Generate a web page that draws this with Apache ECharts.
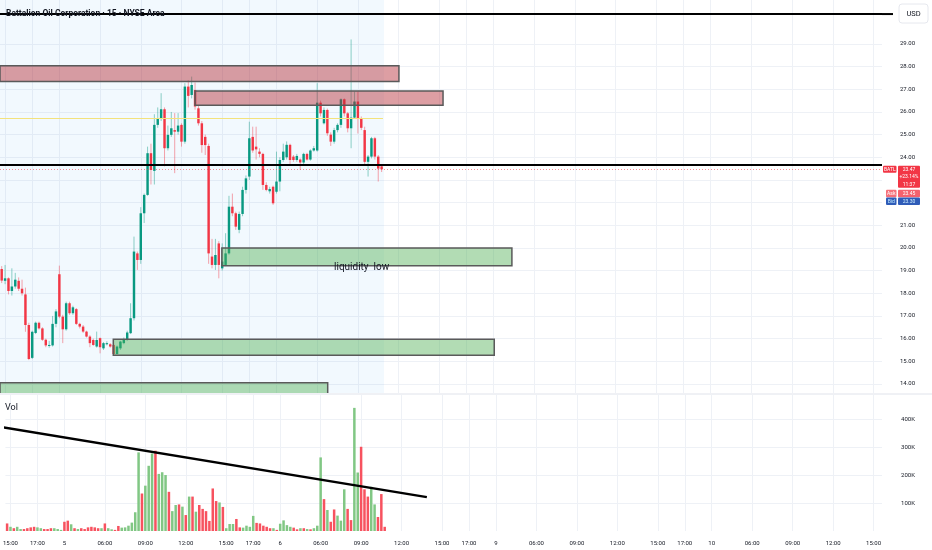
<!DOCTYPE html>
<html><head><meta charset="utf-8">
<script src="https://cdn.jsdelivr.net/npm/echarts@6/dist/echarts.min.js"></script>
<style>html,body{margin:0;padding:0;background:#fff}#c{width:932px;height:550px}</style>
</head><body><div id="c"></div>
<script>
// ---------------- data ----------------
const chartTitle = 'Battalion Oil Corporation · 15 · NYSE Arca';
const sessionDays = ['4', '5', '6', '9', '10'];
const sessionStart = '03:00';
const sessionEnd = '18:45';
const firstBarTime = '14:45';
const barCount = 260;
const tickTimes = ['06:00', '09:00', '12:00', '15:00', '17:00'];
const priceTicks = [14, 15, 16, 17, 18, 19, 20, 21, 22, 23, 24, 25, 26, 27, 28, 29];
const volumeTicks = [100, 200, 300, 400]; // thousands

// [open, close, low, high]
const ohlc = [
 [19.07,18.56,18.45,19.2],[18.55,18.66,18.4,19.25],[18.66,18.1,17.95,18.7],[18.1,18.3,17.9,19.1],
 [18.3,18.6,18.2,18.9],[18.55,18.2,18.1,18.7],[18.2,18.0,17.9,18.6],[17.95,16.6,16.3,18.25],
 [16.6,15.1,15.05,16.7],[15.15,16.3,15.1,16.35],[16.25,16.7,16.2,16.75],[16.7,16.45,16.4,16.75],
 [16.45,15.95,15.9,16.5],[15.95,15.7,15.62,16.0],[15.68,15.72,15.6,15.9],[15.7,16.65,15.65,17.0],
 [16.65,17.2,16.5,17.3],
 [18.84,16.97,16.9,19.22],[16.97,16.41,15.8,17.05],[16.41,17.56,16.35,17.63],[17.56,17.12,17.05,17.63],
 [17.12,17.38,17.05,17.45],[17.3,16.65,16.6,17.35],[16.65,16.53,16.45,16.7],[16.53,16.31,16.25,16.6],
 [16.31,16.09,16.05,16.35],[16.09,15.8,15.62,16.15],[15.94,15.72,15.68,16.0],[15.65,15.94,15.6,16.31],
 [16.02,15.62,15.35,16.05],[15.57,15.8,15.5,15.85],[15.75,15.8,15.7,15.88],[15.75,15.65,15.6,15.8],
 [15.72,15.32,15.28,15.78],[15.32,15.65,15.3,15.7],[15.57,15.87,15.5,15.9],[15.8,15.94,15.75,16.05],
 [15.94,16.27,15.9,16.35],[16.24,16.9,16.2,17.56],[16.9,19.84,16.8,20.5],[19.76,19.47,19.03,19.84],
 [19.47,21.53,19.3,21.8],[21.53,22.34,21.1,22.4],[22.34,24.18,22.3,24.47],[24.18,23.44,22.8,24.6],
 [23.4,25.43,22.8,25.9],[25.43,25.72,25.3,26.2],[25.72,26.12,25.6,26.83],[26.12,24.4,23.6,26.2],
 [24.4,24.99,24.3,25.4],[24.99,25.28,24.9,26.0],[25.2,25.13,23.3,25.95],[25.13,25.4,25.0,25.95],
 [25.43,24.69,24.47,25.5],[24.69,27.12,24.6,27.27],[27.12,26.71,26.2,27.4],[26.75,27.19,26.6,27.56],
 [26.97,26.24,26.1,27.3],[26.16,25.5,25.4,26.3],[25.5,24.54,24.2,25.6],[24.9,24.54,24.1,25.0],
 [24.5,19.76,19.3,24.6],[19.62,19.25,19.1,20.4],[19.25,19.69,19.03,20.4],[20.2,19.25,18.66,20.3],
 [19.1,19.4,19.0,20.2],[19.25,19.76,19.2,20.65],[19.76,21.82,19.7,22.3],[21.82,21.53,21.4,22.4],
 [21.53,20.94,20.8,21.6],[20.8,21.5,20.65,21.6],[21.5,22.56,21.4,22.7],[22.56,23.07,22.4,23.2],
 [23.15,24.84,23.0,25.57],[24.9,24.3,24.2,25.35],[24.47,24.35,23.9,25.35],[24.25,24.15,24.0,24.4],
 [24.15,22.78,22.56,24.2],[22.78,22.56,22.5,22.9],[22.5,22.6,22.4,22.7],[22.7,21.97,21.9,22.75],
 [22.48,22.93,22.4,24.25],[22.93,23.88,22.5,24.0],[23.88,24.25,23.8,24.6],[24.0,24.55,23.9,24.7],
 [24.55,23.88,23.66,24.6],[24.03,23.88,23.8,24.1],[23.88,24.06,23.8,24.15],[23.9,23.77,23.45,23.95],
 [23.77,24.15,23.7,24.2],[24.15,23.9,23.85,24.2],[23.9,24.3,23.85,24.35],[24.3,24.4,24.25,24.5],
 [24.3,26.41,24.25,27.27],[26.41,25.94,25.8,26.5],[25.5,26.09,25.45,26.2],[26.09,25.06,24.95,26.15],
 [25.0,24.69,24.5,25.1],[24.69,25.2,24.6,25.3],[25.2,25.43,25.1,25.5],[25.43,26.56,25.3,26.6],
 [26.56,25.94,25.8,26.6],[25.94,25.28,25.1,26.0],[25.28,25.75,24.4,29.2],[25.75,26.46,25.7,26.9],
 [26.46,25.72,25.05,26.9],[25.72,25.3,25.2,25.8],[25.2,23.8,23.7,25.35],[23.8,24.03,23.15,24.1],
 [24.03,24.84,23.95,24.9],[24.84,24.03,23.9,24.9],[24.03,23.5,22.93,24.1],[23.6,23.47,23.35,23.7]
];

// volume in thousands
const volumes = [
 27,15,10,15,7,7,10,13,15,13,10,7,7,10,10,7,4,
 33,37,24,10,7,10,7,13,15,13,10,10,27,10,6,4,18,12,13,19,30,67,281,134,162,233,277,287,204,210,200,
 140,71,93,95,87,57,123,123,69,93,79,71,36,152,107,102,86,10,25,25,43,13,12,19,15,54,29,27,19,15,10,10,4,
 26,38,21,15,12,6,10,10,7,6,10,19,263,114,75,33,77,55,37,149,79,39,440,209,301,149,123,158,95,50,132,15
];

// drawings: [fromBar, toBar, topPrice, bottomPrice]
const supplyZones = [[-0.5, 117.1, 28.04, 27.34], [57.0, 130.1, 26.93, 26.30]];
const demandZones = [[64.9, 150.4, 20.0, 19.22], [32.9, 145.2, 15.97, 15.27], [-0.5, 96.1, 14.05, 13.2]];
const highlightBars = [-0.5, 112.7];
const yellowLevel = 25.72;
const yellowEndBar = 112.4;
const blackLevel = 23.66;
const topLevel = 30.32;
const volumeTrend = [[-2, 372], [124.5, 121]];
const liquidityLabel = { text: 'liquidity  low', bar: 106.1, price: 19.14 };
const lastPrice = 23.47, changeText = '+23.14%', countdown = '11:37';
const askPrice = 23.45, bidPrice = 23.30;

// ---------------- build ----------------
function pad(n) { return (n < 10 ? '0' : '') + n; }
const categories = (() => {
  const out = [];
  const toMin = s => { const p = s.split(':').map(Number); return p[0] * 60 + p[1]; };
  sessionDays.forEach((d, di) => {
    for (let m = di === 0 ? toMin(firstBarTime) : toMin(sessionStart); m <= toMin(sessionEnd); m += 15) {
      out.push({ day: d, time: pad(Math.floor(m / 60)) + ':' + pad(m % 60) });
    }
  });
  return out.slice(0, barCount);
})();
const tickIdx = [];
categories.forEach((c, i) => { if (c.time === sessionStart || tickTimes.indexOf(c.time) >= 0) tickIdx.push(i); });
function tickLabel(v) {
  const c = categories[Math.round(v)];
  if (!c) return '';
  return c.time === sessionStart ? c.day : c.time;
}

const UP = '#089981', DN = '#F23645';
const UPW = 'rgba(8,153,129,0.45)', DNW = 'rgba(242,54,69,0.45)';

function renderCandle(params, api) {
  const i = api.value(0), o = api.value(1), c = api.value(2), l = api.value(3), h = api.value(4);
  const up = c >= o;
  const top = api.coord([i, Math.max(o, c)]), bot = api.coord([i, Math.min(o, c)]);
  const hi = api.coord([i, h]), lo = api.coord([i, l]);
  const bw = api.size([1, 0])[0] * 0.72;
  const x = top[0];
  return { type: 'group', children: [
    { type: 'line', shape: { x1: x, y1: hi[1], x2: x, y2: lo[1] }, style: { stroke: up ? UPW : DNW, lineWidth: 1 } },
    { type: 'rect', shape: { x: x - bw / 2, y: top[1], width: bw, height: Math.max(1, bot[1] - top[1]) }, style: { fill: up ? UP : DN } }
  ]};
}
function zoneRenderer(fill) {
  return function (params, api) {
    const p1 = api.coord([api.value(0), api.value(2)]);
    const p2 = api.coord([api.value(1), api.value(3)]);
    return { type: 'rect', shape: { x: p1[0], y: p1[1], width: p2[0] - p1[0], height: p2[1] - p1[1] },
      style: { fill: fill, stroke: '#5a5a5a', lineWidth: 1.5 } };
  };
}

const axisFont = { fontFamily: 'Roboto', fontSize: 6, color: '#131722' };
const gridLine = { show: true, lineStyle: { color: '#eef1f6', width: 1 } };

const option = {
  animation: false,
  backgroundColor: '#ffffff',
  grid: [
    { left: 0, right: 50, top: 0, height: 393 },
    { left: 0, right: 50, top: 395, height: 136 }
  ],
  xAxis: [
    { type: 'value', gridIndex: 0, min: -0.5, max: barCount - 0.5,
      axisLine: { show: false }, axisTick: { show: false, customValues: tickIdx },
      axisLabel: { show: false, customValues: tickIdx }, splitLine: gridLine },
    { type: 'value', gridIndex: 1, min: -0.5, max: barCount - 0.5,
      axisLine: { show: false }, axisTick: { show: false, customValues: tickIdx },
      axisLabel: Object.assign({ show: true, customValues: tickIdx, formatter: tickLabel, margin: 9 }, axisFont),
      splitLine: gridLine }
  ],
  yAxis: [
    { type: 'value', gridIndex: 0, position: 'right', min: 13.6, max: 30.94,
      axisLine: { show: false }, axisTick: { show: false, customValues: priceTicks },
      axisLabel: Object.assign({ customValues: priceTicks, formatter: v => v.toFixed(2), align: 'right', margin: 33 }, axisFont),
      splitLine: gridLine },
    { type: 'value', gridIndex: 1, position: 'right', min: 0, max: 486,
      axisLine: { show: false }, axisTick: { show: false, customValues: volumeTicks },
      axisLabel: Object.assign({ customValues: volumeTicks, formatter: v => v + 'K', align: 'right', margin: 33 }, axisFont),
      splitLine: gridLine }
  ],
  series: [
    { name: 'levels', type: 'line', xAxisIndex: 0, yAxisIndex: 0, z: 1,
      data: ohlc.map((d, i) => [i, d[1]]), showSymbol: false, lineStyle: { opacity: 0 }, silent: true,
      markArea: { silent: true, itemStyle: { color: 'rgba(33,150,243,0.06)' },
        data: [[{ xAxis: highlightBars[0] }, { xAxis: highlightBars[1] }]] },
      markLine: { silent: true, symbol: ['none', 'none'], label: { show: false }, animation: false,
        data: [
          { yAxis: lastPrice, lineStyle: { color: 'rgba(242,54,69,0.55)', type: [1, 2], width: 1 } },
          [{ coord: [highlightBars[0], yellowLevel], lineStyle: { color: '#f3e27c', width: 1, type: 'solid' } },
           { coord: [yellowEndBar, yellowLevel] }]
        ] } },
    { name: 'candles', type: 'custom', xAxisIndex: 0, yAxisIndex: 0, z: 3,
      renderItem: renderCandle, data: ohlc.map((d, i) => [i, d[0], d[1], d[2], d[3]]),
      encode: { x: 0, y: [1, 2, 3, 4] } },
    { name: 'supply', type: 'custom', xAxisIndex: 0, yAxisIndex: 0, z: 5, clip: true,
      renderItem: zoneRenderer('rgba(180,40,52,0.45)'), data: supplyZones, encode: { x: [0, 1], y: [2, 3] } },
    { name: 'demand', type: 'custom', xAxisIndex: 0, yAxisIndex: 0, z: 5, clip: true,
      renderItem: zoneRenderer('rgba(76,175,80,0.43)'), data: demandZones, encode: { x: [0, 1], y: [2, 3] } },
    { name: 'lines', type: 'line', xAxisIndex: 0, yAxisIndex: 0, z: 6, data: [], silent: true,
      markLine: { silent: true, symbol: ['none', 'none'], label: { show: false }, animation: false,
        data: [
          { yAxis: blackLevel, lineStyle: { color: '#000000', width: 2, type: 'solid' } },
          { yAxis: topLevel, lineStyle: { color: '#000000', width: 2, type: 'solid' } }
        ] } },
    { name: 'volume', type: 'bar', xAxisIndex: 1, yAxisIndex: 1, barWidth: 2.5, z: 3,
      data: volumes.map((v, i) => ({ value: [i, v], itemStyle: { color: ohlc[i][1] >= ohlc[i][0] ? '#81C784' : '#F7525F' } })) },
    { name: 'volumeTrend', type: 'line', xAxisIndex: 1, yAxisIndex: 1, z: 6, clip: true, silent: true,
      data: volumeTrend, showSymbol: false, symbol: 'none', lineStyle: { color: '#000000', width: 2.5 } }
  ]
};

const chart = echarts.init(document.getElementById('c'), null, { renderer: 'canvas' });
chart.setOption(option);

// overlay texts and price tags positioned through the chart's scales
const yLast = chart.convertToPixel({ yAxisIndex: 0 }, lastPrice);
const xEdge = chart.convertToPixel({ xAxisIndex: 0 }, barCount - 0.5);
const yTop = chart.convertToPixel({ yAxisIndex: 0 }, topLevel);
const liq = chart.convertToPixel({ gridIndex: 0 }, [liquidityLabel.bar, liquidityLabel.price]);
const tagFont = { fontFamily: 'Roboto', fontSize: 5, fill: '#ffffff', align: 'center', verticalAlign: 'middle' };
function box(x, y, w, h, fill) { return { type: 'rect', shape: { x: x, y: y, width: w, height: h, r: 1 }, style: { fill: fill }, z: 50 }; }
function txt(x, y, s, extra) { return { type: 'text', x: x, y: y, style: Object.assign({ text: s }, tagFont, extra || {}), z: 51 }; }

chart.setOption({ graphic: [
  { type: 'line', shape: { x1: 0, y1: 394, x2: 932, y2: 394 }, style: { stroke: '#e0e3eb', lineWidth: 1 }, z: 40 },
  { type: 'line', shape: { x1: xEdge, y1: yTop, x2: xEdge + 11, y2: yTop }, style: { stroke: '#000', lineWidth: 2 }, z: 40 },
  { type: 'text', x: 6, y: 14, style: { text: chartTitle, fontFamily: 'Roboto', fontSize: 8.5, fontWeight: 'bold', fill: '#131722', verticalAlign: 'middle' }, z: 45 },
  { type: 'text', x: 5, y: 408, style: { text: 'Vol', fontFamily: 'Roboto', fontSize: 9, fill: '#131722', verticalAlign: 'middle' }, z: 45 },
  { type: 'rect', shape: { x: 899, y: 4, width: 29, height: 19, r: 3 }, style: { fill: '#ffffff', stroke: '#e6e8ee', lineWidth: 1 }, z: 45 },
  { type: 'text', x: 913.5, y: 14, style: { text: 'USD', fontFamily: 'Roboto', fontSize: 7.5, fill: '#131722', align: 'center', verticalAlign: 'middle' }, z: 46 },
  { type: 'text', x: liq[0], y: liq[1], style: { text: liquidityLabel.text, fontFamily: 'Roboto', fontSize: 10, fill: '#131722', align: 'center', verticalAlign: 'middle' }, z: 45 },
  box(xEdge + 1, yLast - 3.5, 13.5, 7, '#F23645'), txt(xEdge + 7.75, yLast, 'BATL'),
  box(xEdge + 16, yLast - 3.5, 22, 22, '#F23645'),
  txt(xEdge + 27, yLast, lastPrice.toFixed(2)), txt(xEdge + 27, yLast + 7.5, changeText), txt(xEdge + 27, yLast + 15, countdown),
  box(xEdge + 4, yLast + 20.5, 10.5, 7.5, '#f5707a'), txt(xEdge + 9.25, yLast + 24.25, 'Ask'),
  box(xEdge + 16, yLast + 20.5, 22, 7.5, '#f5626d'), txt(xEdge + 27, yLast + 24.25, askPrice.toFixed(2)),
  box(xEdge + 4, yLast + 28.3, 10.5, 7.5, '#2f5cb8'), txt(xEdge + 9.25, yLast + 32, 'Bid', { fill: '#bfe9ff' }),
  box(xEdge + 16, yLast + 28.3, 22, 7.5, '#2f5cb8'), txt(xEdge + 27, yLast + 32, bidPrice.toFixed(2), { fill: '#cfefff' })
]});
</script>
</body></html>
